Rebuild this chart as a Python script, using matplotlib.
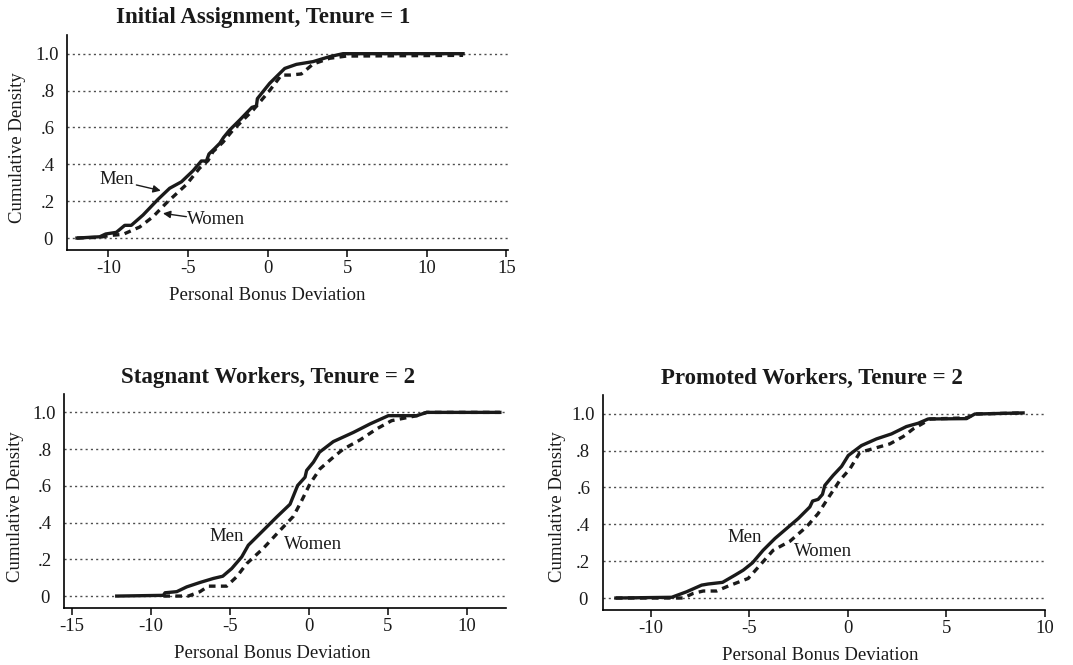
import matplotlib.pyplot as plt

plt.rcParams['font.family'] = ['Liberation Serif', 'DejaVu Serif']
plt.rcParams['axes.unicode_minus'] = False

# Panel 1: initial assignment, tenure = 1
init_men_x = [-11.97, -10.54, -10.17, -9.50, -8.97, -8.56, -7.82, -6.88, -6.15, -5.41, -4.68, -4.16,
              -3.84, -3.68, -3.32, -3.00, -2.76, -2.38, -1.75, -0.98, -0.70, -0.64, 0.13, 1.08,
              1.81, 2.86, 3.90, 4.74, 12.28]
init_men_y = [0.0, 0.007, 0.022, 0.031, 0.069, 0.069, 0.125, 0.21, 0.27, 0.305, 0.365, 0.418,
              0.418, 0.456, 0.486, 0.514, 0.546, 0.586, 0.64, 0.709, 0.716, 0.756, 0.839, 0.92,
              0.942, 0.957, 0.984, 1.0, 1.0]
init_women_x = [-11.97, -10.54, -9.92, -9.08, -8.03, -7.19, -6.36, -5.10, -4.26, -3.74, -3.43, -2.80,
                -2.17, -0.91, 0.13, 0.87, 1.39, 2.12, 2.86, 3.90, 4.95, 12.28]
init_women_y = [0.0, 0.004, 0.014, 0.02, 0.06, 0.116, 0.19, 0.29, 0.38, 0.42, 0.468, 0.52,
                0.586, 0.694, 0.80, 0.884, 0.884, 0.89, 0.944, 0.975, 0.987, 0.991]

# Panel 2: stagnant workers, tenure = 2
stag_men_x = [-12.15, -9.20, -9.09, -8.35, -7.72, -6.88, -6.03, -5.44, -4.87, -4.24, -3.82, -2.87,
              -2.03, -1.18, -0.70, -0.23, -0.13, 0.30, 0.68, 1.56, 2.83, 3.88, 5.04, 6.84, 7.47, 12.1]
stag_men_y = [0.0, 0.004, 0.018, 0.024, 0.05, 0.074, 0.096, 0.108, 0.15, 0.213, 0.277, 0.358,
              0.43, 0.50, 0.602, 0.647, 0.684, 0.729, 0.783, 0.841, 0.891, 0.937, 0.982, 0.982, 1.0, 1.0]
stag_women_x = [-9.20, -7.62, -6.88, -6.35, -5.19, -4.56, -3.92, -2.87, -1.81, -0.97, -0.44, 0.08,
                0.72, 1.56, 2.19, 3.25, 4.30, 5.25, 6.84, 7.47, 12.1]
stag_women_y = [0.0, 0.0, 0.024, 0.054, 0.054, 0.105, 0.177, 0.26, 0.358, 0.434, 0.52, 0.611,
                0.693, 0.756, 0.80, 0.85, 0.91, 0.955, 0.982, 1.0, 1.0]

# Panel 3: promoted workers, tenure = 2
prom_men_x = [-11.76, -8.93, -8.17, -7.41, -7.08, -6.35, -5.72, -5.30, -4.83, -4.29, -3.69, -3.10,
              -2.51, -1.92, -1.78, -1.50, -1.28, -1.16, -0.74, -0.31, 0.03, 0.70, 1.46, 2.22,
              2.98, 3.58, 4.08, 6.03, 6.45, 8.9]
prom_men_y = [0.0, 0.004, 0.034, 0.07, 0.076, 0.085, 0.124, 0.151, 0.191, 0.259, 0.323, 0.377,
              0.431, 0.494, 0.526, 0.535, 0.562, 0.611, 0.665, 0.714, 0.773, 0.827, 0.863, 0.89,
              0.93, 0.948, 0.971, 0.973, 0.998, 1.004]
prom_women_x = [-11.76, -8.34, -7.84, -7.33, -6.65, -6.06, -5.05, -4.45, -3.78, -2.93, -2.09, -1.50,
                -0.90, -0.40, 0.11, 0.62, 1.29, 2.14, 2.82, 3.32, 3.91, 4.17, 6.03, 6.45, 8.9]
prom_women_y = [0.0, 0.0, 0.025, 0.038, 0.038, 0.065, 0.106, 0.178, 0.259, 0.308, 0.386, 0.458,
                0.557, 0.638, 0.70, 0.79, 0.81, 0.836, 0.876, 0.917, 0.953, 0.971, 0.977, 0.998, 1.004]

y_ticks = [0, 0.2, 0.4, 0.6, 0.8, 1.0]
y_ticklabels = ['0', '.2', '.4', '.6', '.8', '1.0']

fig = plt.figure(figsize=(10.73, 6.65), dpi=100)

panels = [
    # axes rect, xlim, xticks, title, title pos, xlabel pos, ylabel pos
    ([0.0624, 0.624, 0.411, 0.323], (-12.6, 15.1), [-10, -5, 0, 5, 10, 15],
     'Initial Assignment, Tenure = 1', (263, 18), (267, 296), (18, 148),
     init_men_x, init_men_y, init_women_x, init_women_y),
    ([0.0596, 0.0857, 0.4117, 0.3218], (-15.49, 12.47), [-15, -10, -5, 0, 5, 10],
     'Stagnant Workers, Tenure = 2', (268, 377), (272, 654), (16, 507),
     stag_men_x, stag_men_y, stag_women_x, stag_women_y),
    ([0.5617, 0.0827, 0.412, 0.323], (-12.43, 10.0), [-10, -5, 0, 5, 10],
     'Promoted Workers, Tenure = 2', (812, 378), (820, 655), (557, 507),
     prom_men_x, prom_men_y, prom_women_x, prom_women_y),
]

W, H = 1073, 665
axes = []
for rect, xlim, xticks, title, tpos, xlpos, ylpos, mx, my, wx, wy in panels:
    ax = fig.add_axes(rect)
    for yv in y_ticks:
        ax.axhline(yv, color='0.3', lw=1.0, linestyle=(0, (1.5, 2.3)), zorder=1)
    ax.plot(mx, my, color='#1a1a1a', lw=2.4, solid_joinstyle='round', zorder=3)
    ax.plot(wx, wy, color='#1a1a1a', lw=2.4, linestyle=(0, (2.0, 1.6)), zorder=3)
    ax.set_xlim(*xlim)
    ax.set_ylim(-0.065, 1.1)
    ax.set_xticks(xticks)
    ax.set_yticks(y_ticks)
    ax.set_yticklabels(y_ticklabels)
    ax.spines['top'].set_visible(False)
    ax.spines['right'].set_visible(False)
    ax.spines['left'].set_linewidth(1.2)
    ax.spines['bottom'].set_linewidth(1.2)
    ax.tick_params(axis='x', length=5, width=1.2, pad=2, labelsize=13.5, color='#1a1a1a',
                   labelcolor='#1a1a1a')
    ax.tick_params(axis='y', length=0, pad=14, labelsize=13.5, labelcolor='#1a1a1a')
    for lab in ax.get_yticklabels():
        lab.set_horizontalalignment('center')
    fig.text(tpos[0] / W, 1 - tpos[1] / H, title, ha='center', va='center',
             fontsize=16.5, fontweight='bold', color='#1a1a1a')
    fig.text(xlpos[0] / W, 1 - xlpos[1] / H, 'Personal Bonus Deviation', ha='center',
             va='center', fontsize=13.5, color='#1a1a1a')
    fig.text(ylpos[0] / W, 1 - ylpos[1] / H, 'Cumulative Density', ha='center', va='center',
             rotation=90, fontsize=13.5, color='#1a1a1a')
    axes.append(ax)

ax1, ax2, ax3 = axes
arrow = dict(arrowstyle='-|>', color='#1a1a1a', lw=1.0, mutation_scale=11,
             shrinkA=0, shrinkB=0)
ax1.text(-9.46, 0.315, 'Men', fontsize=13.5, ha='center', va='center', color='#1a1a1a')
ax1.annotate('', xy=(-6.71, 0.257), xytext=(-8.24, 0.288), arrowprops=arrow)
ax1.text(-3.22, 0.098, 'Women', fontsize=13.5, ha='center', va='center', color='#1a1a1a')
ax1.annotate('', xy=(-6.57, 0.134), xytext=(-5.1, 0.116), arrowprops=arrow)
ax2.text(-5.19, 0.322, 'Men', fontsize=13.5, ha='center', va='center', color='#1a1a1a')
ax2.text(0.25, 0.28, 'Women', fontsize=13.5, ha='center', va='center', color='#1a1a1a')
ax3.text(-5.22, 0.328, 'Men', fontsize=13.5, ha='center', va='center', color='#1a1a1a')
ax3.text(-1.24, 0.25, 'Women', fontsize=13.5, ha='center', va='center', color='#1a1a1a')

fig.savefig('out.png', dpi=100)
